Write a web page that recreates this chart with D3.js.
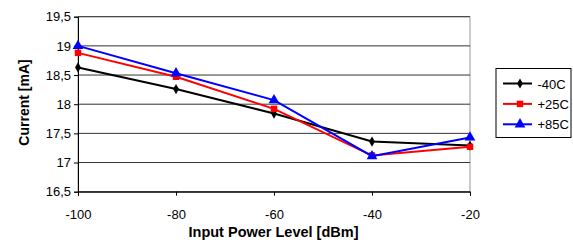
<!DOCTYPE html>
<html>
<head>
  <meta charset="utf-8">
  <script src="https://d3js.org/d3.v7.min.js"></script>
  <style>
    body { margin: 0; background: #fff; }
    text { font-family: "Liberation Sans", Arial, sans-serif; }
  </style>
</head>
<body>
  <svg width="573" height="250"></svg>
  <script>
    // chart values
    var powerLevels = [-100, -80, -60, -40, -20];
    var seriesNames = ["-40C", "+25C", "+85C"];
    var minus40 = [18.63, 18.26, 17.84, 17.36, 17.29];
    var plus25 = [18.88, 18.47, 17.92, 17.12, 17.27];
    var plus85 = [19.0, 18.53, 18.07, 17.11, 17.43];
    var yTicks = [16.5, 17, 17.5, 18, 18.5, 19, 19.5];

    var seriesData = [
      { name: seriesNames[0], values: minus40, color: "#000000", shape: d3.symbolDiamond, size: 30 },
      { name: seriesNames[1], values: plus25, color: "#ff0000", shape: d3.symbolSquare, size: 42 },
      { name: seriesNames[2], values: plus85, color: "#0000ff", shape: d3.symbolTriangle, size: 50 }
    ];

    var svg = d3.select("svg");
    var plot = { left: 78, right: 470, top: 16.7, bottom: 191.7 };

    var x = d3.scaleLinear().domain([-100, -20]).range([plot.left, plot.right]);
    var y = d3.scaleLinear().domain([16.5, 19.5]).range([plot.bottom, plot.top]);

    // plot area border
    svg.append("rect")
      .attr("x", plot.left)
      .attr("y", plot.top)
      .attr("width", plot.right - plot.left)
      .attr("height", plot.bottom - plot.top)
      .attr("fill", "none")
      .attr("stroke", "#999")
      .attr("stroke-width", 1);

    // horizontal gridlines
    svg.append("g")
      .selectAll("line")
      .data(yTicks)
      .enter()
      .append("line")
      .attr("x1", plot.left)
      .attr("x2", plot.right)
      .attr("y1", d => y(d))
      .attr("y2", d => y(d))
      .attr("stroke", "#333")
      .attr("stroke-width", 1);

    // y axis
    var yAxis = svg.append("g")
      .attr("transform", "translate(" + plot.left + ",0)")
      .call(d3.axisLeft(y).tickValues(yTicks).tickSize(4).tickPadding(3)
        .tickFormat(d => String(d).replace(".", ",")));
    yAxis.select(".domain").attr("stroke", "#000");
    yAxis.selectAll("text").attr("font-size", 13).attr("fill", "#000")
      .style("font-family", "'Liberation Sans', Arial, sans-serif");

    // x axis
    var xAxis = svg.append("g")
      .attr("transform", "translate(0," + plot.bottom + ")")
      .call(d3.axisBottom(x).tickValues(powerLevels).tickSize(4).tickPadding(14)
        .tickFormat(d => String(d)));
    xAxis.select(".domain").attr("stroke", "#000");
    xAxis.selectAll("text").attr("font-size", 13).attr("fill", "#000")
      .style("font-family", "'Liberation Sans', Arial, sans-serif");

    // axis titles
    svg.append("text")
      .attr("x", 273.5)
      .attr("y", 236.7)
      .attr("text-anchor", "middle")
      .attr("font-size", 14.5)
      .attr("font-weight", "bold")
      .text("Input Power Level [dBm]");

    svg.append("text")
      .attr("transform", "translate(28.5,102.5) rotate(-90)")
      .attr("text-anchor", "middle")
      .attr("font-size", 14)
      .attr("font-weight", "bold")
      .text("Current [mA]");

    // series lines and markers
    var line = d3.line()
      .x((d, i) => x(powerLevels[i]))
      .y(d => y(d));

    var groups = svg.selectAll("g.series")
      .data(seriesData)
      .enter()
      .append("g")
      .attr("class", "series");

    groups.append("path")
      .attr("d", d => line(d.values))
      .attr("fill", "none")
      .attr("stroke", d => d.color)
      .attr("stroke-width", 2);

    groups.each(function(s) {
      d3.select(this).selectAll("path.marker")
        .data(s.values)
        .enter()
        .append("path")
        .attr("class", "marker")
        .attr("transform", (d, i) => "translate(" + x(powerLevels[i]) + "," + y(d) + ")")
        .attr("d", d3.symbol().type(s.shape).size(s.size))
        .attr("fill", s.color);
    });

    // legend
    var legend = svg.append("g").attr("transform", "translate(496,68.5)");
    legend.append("rect")
      .attr("width", 75)
      .attr("height", 69)
      .attr("fill", "#fff")
      .attr("stroke", "#000")
      .attr("stroke-width", 1);

    var items = legend.selectAll("g.item")
      .data(seriesData)
      .enter()
      .append("g")
      .attr("class", "item")
      .attr("transform", (d, i) => "translate(0," + (15 + i * 20.4) + ")");

    items.append("line")
      .attr("x1", 7)
      .attr("x2", 36)
      .attr("stroke", d => d.color)
      .attr("stroke-width", 2);

    items.append("path")
      .attr("transform", "translate(24,0)")
      .attr("d", d => d3.symbol().type(d.shape).size(d.size)())
      .attr("fill", d => d.color);

    items.append("text")
      .attr("x", 41.5)
      .attr("y", 5)
      .attr("font-size", 13)
      .text(d => d.name);
  </script>
</body>
</html>
